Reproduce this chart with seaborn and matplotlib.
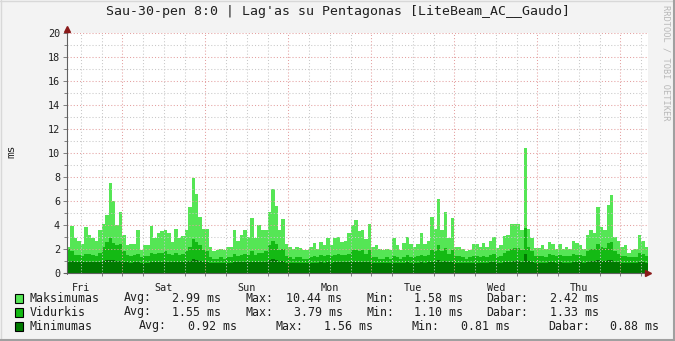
import matplotlib
matplotlib.use("Agg")
import matplotlib.pyplot as plt
from matplotlib.lines import Line2D
from matplotlib.patches import Rectangle
import numpy as np
import pandas as pd
import seaborn as sns

# ---------------- data ----------------
title = "Sau-30-pen 8:0 | Lag'as su Pentagonas [LiteBeam_AC__Gaudo]"
day_labels = ["Fri", "Sat", "Sun", "Mon", "Tue", "Wed", "Thu"]
y_ticks = [0, 2, 4, 6, 8, 10, 12, 14, 16, 18, 20]
y_label = "ms"

# hourly values starting Fri 08:00 (168 hours)
max_ms = [2.2, 3.9, 2.9, 2.7, 2.4, 3.8, 3.2, 2.9, 2.7, 3.6, 4.1, 4.8, 7.5, 6.0, 4.0, 5.1, 3.2, 2.3, 2.4, 2.4,
          3.6, 1.9, 2.3, 2.3, 3.9, 2.9, 3.3, 3.5, 3.6,
          3.3, 2.6, 3.7, 2.9, 3.1, 3.6, 5.5, 7.9, 6.6, 4.7, 3.7, 3.7, 2.2, 1.8, 1.9, 2.0, 1.9, 2.2, 2.2, 3.6,
          2.7, 3.2, 3.6, 3.0, 4.6, 2.9, 4.0,
          3.6, 3.6, 5.1, 7.0, 5.6, 3.6, 4.5, 2.4, 2.2, 2.0, 2.2, 2.1, 1.9, 1.9, 2.2, 2.5, 2.0, 2.6, 2.3, 2.9,
          2.3, 2.9, 3.0, 2.6, 2.7, 3.3, 4.0, 4.4,
          3.5, 3.6, 2.8, 4.1, 2.2, 2.3, 2.0, 1.9, 2.0, 1.9, 2.9, 2.3, 1.9, 2.5, 3.0, 2.4, 2.2, 2.4, 3.3, 2.4,
          2.7, 4.7, 3.7, 6.2, 3.6, 5.1, 2.9, 4.6,
          2.2, 2.2, 2.0, 1.8, 1.9, 2.4, 2.4, 2.2, 2.5, 2.2, 2.7, 3.0, 2.1, 2.3, 3.1, 3.2, 4.1, 4.1, 4.1, 3.6,
          10.44, 3.7, 2.9, 2.1, 2.1, 2.3, 2.0,
          2.6, 2.4, 2.0, 2.4, 2.0, 2.2, 2.0, 2.7, 2.5, 2.3, 2.0, 3.2, 3.6, 3.3, 5.5, 3.8, 3.6, 5.7, 6.5, 3.0,
          2.7, 2.2, 2.3, 1.7, 1.9, 2.0, 3.2, 2.7, 2.2]

avg_ms = [2.0, 1.8, 1.5, 1.5, 1.4, 1.6, 1.6, 1.5, 1.4, 1.7, 2.2, 2.6, 2.9, 2.5, 2.3, 2.4, 1.8, 1.5, 1.4, 1.5,
          1.6, 1.3, 1.4, 1.4, 1.7, 1.6, 1.7, 1.7, 1.8,
          1.6, 1.5, 1.7, 1.5, 1.6, 1.8, 2.2, 2.8, 2.6, 2.3, 1.9, 1.8, 1.3, 1.2, 1.2, 1.3, 1.2, 1.3, 1.3, 1.6,
          1.4, 1.5, 1.6, 1.5, 1.8, 1.5, 1.7,
          1.7, 1.8, 2.3, 2.7, 2.4, 1.9, 2.0, 1.4, 1.3, 1.2, 1.3, 1.3, 1.2, 1.2, 1.3, 1.4, 1.3, 1.5, 1.4, 1.5,
          1.4, 1.5, 1.6, 1.5, 1.5, 1.6, 1.9, 1.9,
          1.8, 1.9, 1.6, 1.9, 1.3, 1.3, 1.2, 1.2, 1.3, 1.2, 1.4, 1.3, 1.2, 1.3, 1.5, 1.3, 1.3, 1.4, 1.5, 1.4,
          1.5, 1.9, 1.8, 2.3, 1.8, 2.1, 1.6, 1.9,
          1.4, 1.4, 1.3, 1.2, 1.3, 1.4, 1.4, 1.3, 1.4, 1.3, 1.5, 1.6, 1.3, 1.4, 1.7, 1.8, 2.0, 2.1, 2.1, 1.9,
          3.79, 2.2, 1.8, 1.4, 1.4, 1.4, 1.3,
          1.6, 1.5, 1.4, 1.5, 1.4, 1.4, 1.4, 1.6, 1.5, 1.5, 1.4, 1.8, 2.0, 2.0, 2.4, 2.2, 2.1, 2.5, 2.6, 1.8,
          1.6, 1.4, 1.4, 1.3, 1.3, 1.3, 1.7, 1.6, 1.4]

min_ms = [0.95, 1.0, 0.9, 0.9, 0.88, 0.9, 0.92, 0.9, 0.88, 0.95, 1.0, 1.05, 1.1, 1.05, 1.0, 1.0, 0.92, 0.88,
          0.85, 0.88, 0.9, 0.85, 0.86, 0.87, 0.92, 0.9, 0.92, 0.92, 0.93,
          0.9, 0.9, 0.92, 0.9, 0.9, 0.95, 1.0, 1.15, 1.1, 1.0, 0.95, 0.95, 0.86, 0.84, 0.84, 0.85, 0.84, 0.85,
          0.86, 0.9, 0.88, 0.9, 0.92, 0.9, 0.95, 0.9, 0.92,
          0.93, 0.95, 1.05, 1.2, 1.05, 0.95, 1.0, 0.87, 0.85, 0.84, 0.85, 0.85, 0.83, 0.83, 0.85, 0.86, 0.85,
          0.88, 0.86, 0.88, 0.86, 0.88, 0.9, 0.88, 0.88, 0.9, 0.95, 0.95,
          0.93, 0.95, 0.9, 0.95, 0.84, 0.85, 0.83, 0.83, 0.84, 0.83, 0.86, 0.85, 0.83, 0.85, 0.88, 0.85, 0.85,
          0.86, 0.88, 0.86, 0.88, 0.95, 0.93, 1.05, 0.93, 1.0, 0.9, 0.95,
          0.87, 0.87, 0.85, 0.83, 0.84, 0.86, 0.86, 0.85, 0.87, 0.85, 0.88, 0.9, 0.85, 0.86, 0.9, 0.92, 0.95,
          0.98, 0.98, 0.95, 1.56, 1.0, 0.92, 0.86, 0.86, 0.86, 0.85,
          0.9, 0.88, 0.86, 0.88, 0.86, 0.87, 0.86, 0.9, 0.88, 0.88, 0.86, 0.93, 0.96, 0.96, 1.05, 1.0, 0.98,
          1.1, 1.1, 0.93, 0.9, 0.87, 0.87, 0.85, 0.85, 0.86, 0.92, 0.9, 0.87]

legend_names = ["Maksimumas", "Vidurkis", "Minimumas"]
legend_avg = ["2.99 ms", "1.55 ms", "0.92 ms"]
legend_max = ["10.44 ms", "3.79 ms", "1.56 ms"]
legend_min = ["1.58 ms", "1.10 ms", "0.81 ms"]
legend_now = ["2.42 ms", "1.33 ms", "0.88 ms"]

hours = np.arange(len(max_ms))
df = pd.DataFrame({"hour": hours, "max": max_ms, "avg": avg_ms, "min": min_ms})

# ---------------- style ----------------
BG = "#F3F3F3"
C_MAX = "#55E655"
C_AVG = "#14BA14"
C_MIN = "#007A00"
GRID = "#C8C8C8"
MGRID = "#E4A0A0"
ARROW = "#8B1A1A"

sns.set_theme(style="white")
plt.rcParams["font.family"] = ["DejaVu Sans Mono"]

W, H = 675, 341
fx = lambda x: x / W
fy = lambda y: 1 - y / H

fig = plt.figure(figsize=(W / 100, H / 100), dpi=100, facecolor=BG)
x0, x1, ytop, ybot = 67, 648, 33, 273
ax = fig.add_axes([fx(x0), fy(ybot), (x1 - x0) / W, (ybot - ytop) / H])
ax.set_facecolor("white")

for col, c in [("max", C_MAX), ("avg", C_AVG), ("min", C_MIN)]:
    sns.histplot(data=df, x="hour", weights=col, bins=len(hours), binrange=(0, len(hours)),
                 element="step", fill=True, color=c, alpha=1, linewidth=0, ax=ax, zorder=2)

ax.set_xlim(0, len(hours))
ax.set_ylim(0, 20)

# grid (on top, as rrdtool does)
for v in np.arange(1, 21, 1):
    is_major = (v % 2 == 0)
    ax.axhline(v, color=MGRID if is_major else GRID, lw=0.75, ls=(0, (1, 2)), zorder=5)
for h in range(4, len(hours), 6):
    is_major = ((h + 8) % 24 == 0)
    ax.axvline(h, color=MGRID if is_major else GRID, lw=0.75, ls=(0, (1, 2)), zorder=5)

for s in ax.spines.values():
    s.set_visible(False)

ax.set_yticks(y_ticks)
ax.set_yticklabels([str(t) for t in y_ticks], fontsize=7.3, color="#202020")
ax.set_yticks(np.arange(1, 20, 2), minor=True)
ax.tick_params(axis="y", which="major", left=True, length=3, width=0.7, color="#808080", pad=2)
ax.tick_params(axis="y", which="minor", left=True, length=2, width=0.7, color="#808080")

noon_pos = [4 + 24 * i for i in range(len(day_labels))]
ax.set_xticks(noon_pos)
ax.set_xticklabels(day_labels, fontsize=7.3, color="#202020")
ax.set_xticks([h for h in range(4, len(hours), 6)], minor=True)
ax.tick_params(axis="x", which="major", bottom=False, pad=1)
ax.tick_params(axis="x", which="minor", bottom=True, length=2, width=0.7, color="#808080")
ax.set_xlabel("")
ax.set_ylabel("")

# axis lines and arrows
fig.add_artist(Line2D([fx(x0), fx(x0)], [fy(ybot + 1), fy(29)], color="#606060", lw=0.8))
fig.add_artist(Line2D([fx(x0 - 3), fx(648)], [fy(ybot), fy(ybot)], color="#606060", lw=0.8))
fig.add_artist(Line2D([fx(x0)], [fy(29)], marker="^", markersize=4.2, color=ARROW, lw=0))
fig.add_artist(Line2D([fx(648)], [fy(ybot)], marker=">", markersize=4.2, color=ARROW, lw=0))

# texts
fig.text(fx(338), fy(12), title, ha="center", va="center", fontsize=9.5, color="#202020")
fig.text(fx(11), fy(151), y_label, ha="center", va="center", rotation=90, fontsize=8, color="#202020")
fig.text(fx(666), fy(5), "RRDTOOL / TOBI OETIKER", ha="center", va="top", rotation=270,
         fontsize=6.2, color="#B8B8B8")

# legend
colors = [C_MAX, C_AVG, C_MIN]
row_y = [298, 312, 326]
cols = [
    [30, 124, 172, 245, 286, 366, 414, 486, 550],
    [30, 124, 172, 245, 294, 366, 414, 486, 550],
    [30, 139, 188, 275, 324, 411, 461, 548, 610],
]
for i in range(3):
    yy = row_y[i]
    fig.add_artist(Rectangle((fx(15), fy(yy + 4.5)), 8 / W, 9 / H, facecolor=colors[i],
                             edgecolor="black", lw=0.8))
    pieces = [legend_names[i], "Avg:", legend_avg[i], "Max:", legend_max[i], "Min:", legend_min[i],
              "Dabar:", legend_now[i]]
    for xx, t in zip(cols[i], pieces):
        fig.text(fx(xx), fy(yy), t, ha="left", va="center", fontsize=8.4, color="#202020")

# frame shading
fig.add_artist(Line2D([0, 1], [fy(0.5), fy(0.5)], color="#D8D8D8", lw=1))
fig.add_artist(Line2D([fx(0.5), fx(0.5)], [0, 1], color="#D8D8D8", lw=1))
fig.add_artist(Line2D([0, 1], [fy(340), fy(340)], color="#A0A0A0", lw=1.5))
fig.add_artist(Line2D([fx(674), fx(674)], [0, 1], color="#A0A0A0", lw=1.5))

fig.savefig("out.png", dpi=100, facecolor=BG)
